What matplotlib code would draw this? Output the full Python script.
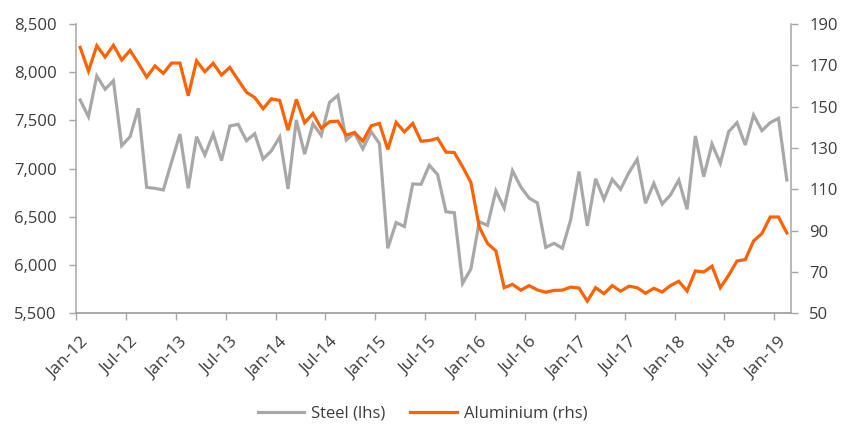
import matplotlib
matplotlib.use("Agg")
import matplotlib.pyplot as plt
from matplotlib.ticker import FuncFormatter, FixedLocator

plt.rcParams['font.family'] = ['Open Sans', 'DejaVu Sans']

# Monthly prices, Jan-12 .. Feb-19
steel = [7712, 7539, 7961, 7823, 7912, 7238, 7331, 7626, 6806, 6796,
         6779, 7070, 7359, 6796, 7331, 7142, 7359, 7083, 7442, 7460,
         7290, 7362, 7100, 7185, 7328, 6790, 7505, 7150, 7465, 7345,
         7688, 7760, 7297, 7370, 7205, 7383, 7260, 6174, 6440, 6400,
         6841, 6838, 7035, 6938, 6553, 6543, 5811, 5960, 6450, 6412,
         6770, 6592, 6979, 6810, 6695, 6644, 6184, 6226, 6174, 6470,
         6970, 6407, 6895, 6682, 6889, 6786, 6958, 7097, 6641, 6848,
         6633, 6727, 6882, 6578, 7339, 6917, 7256, 7055, 7383, 7477,
         7245, 7556, 7394, 7477, 7522, 6882]
aluminium = [178.7, 167.2, 179.5, 174, 179.7, 172.6, 177.2, 171, 164.3, 169.7,
             166.1, 171.1, 171.1, 155.3, 172.2, 166.9, 171, 165.3, 169, 162.9,
             157, 154.4, 149, 153.8, 153, 138.6, 153.5, 142.2, 146.7, 139.5,
             142.7, 143, 136.2, 137.5, 133.3, 140.7, 141.9, 129.3, 142.4, 137.8,
             141.9, 133.3, 133.6, 134.7, 128, 127.8, 120.9, 113.3, 91.8, 83.8,
             80.2, 62.4, 64, 61.2, 63.4, 61.3, 60.2, 61.1, 61.2, 62.7,
             62.2, 55.9, 62.4, 59.5, 63.4, 60.7, 63.1, 62.4, 59.7, 62.1,
             60.3, 63.4, 65.5, 60.8, 70.5, 70, 72.8, 62.4, 68.4, 75.3,
             76, 85, 88.6, 96.6, 96.6, 88.9]
tick_labels = ['Jan-12', 'Jul-12', 'Jan-13', 'Jul-13', 'Jan-14', 'Jul-14',
               'Jan-15', 'Jul-15', 'Jan-16', 'Jul-16', 'Jan-17', 'Jul-17',
               'Jan-18', 'Jul-18', 'Jan-19']
left_ticks = [5500, 6000, 6500, 7000, 7500, 8000, 8500]
right_ticks = [50, 70, 90, 110, 130, 150, 170, 190]

GREY = '#a8a8a8'
ORANGE = '#ff6200'
AXIS = '#a6a6a6'
TEXT = '#3c3c3c'

fig = plt.figure(figsize=(8.45, 4.28), dpi=100)
ax = fig.add_axes([76 / 845, (428 - 313.3) / 428, (791 - 76) / 845, (313.3 - 24) / 428])
ax2 = ax.twinx()

x = list(range(len(steel)))
l1, = ax.plot(x, steel, color=GREY, lw=2.3, solid_joinstyle='miter')
l2, = ax2.plot(x, aluminium, color=ORANGE, lw=2.3, solid_joinstyle='miter')

n = len(steel)
ax.set_xlim(-0.5, n - 0.5)
ax.set_ylim(5500, 8500)
ax2.set_ylim(50, 190)

ax.set_yticks(left_ticks)
ax.yaxis.set_major_formatter(FuncFormatter(lambda v, p: f'{int(v):,}'))
ax2.set_yticks(right_ticks)

# tick marks at category boundaries, labels centred on the category
ax.xaxis.set_major_locator(FixedLocator([i - 0.5 for i in range(0, n, 6)]))
ax.xaxis.set_minor_locator(FixedLocator(list(range(0, n, 6))))
ax.set_xticklabels([], minor=False)
ax.set_xticklabels(tick_labels, minor=True, rotation=45, ha='right',
                   rotation_mode='anchor')
ax.tick_params(axis='x', which='major', length=5, width=1, color=AXIS)
ax.tick_params(axis='x', which='minor', length=0, pad=15, labelsize=12.5,
               labelcolor=TEXT)

ax.tick_params(axis='y', length=5, width=1, color=AXIS, pad=9,
               labelsize=12, labelcolor=TEXT)
ax2.tick_params(axis='y', length=5, width=1, color=AXIS, pad=8,
                labelsize=12, labelcolor=TEXT)

for a in (ax, ax2):
    a.spines['top'].set_visible(False)
    for s in ('left', 'right', 'bottom'):
        a.spines[s].set_color(AXIS)
        a.spines[s].set_linewidth(1.1)
ax.spines['right'].set_visible(False)
ax2.spines['left'].set_visible(False)

fig.legend([l1, l2], ['Steel (lhs)', 'Aluminium (rhs)'], loc='center',
           bbox_to_anchor=(0.5, (428 - 414) / 428), ncol=2, frameon=False,
           fontsize=12, handlelength=2.8, handletextpad=0.4,
           columnspacing=1.5, labelcolor=TEXT)

fig.savefig('out.png', dpi=100)
